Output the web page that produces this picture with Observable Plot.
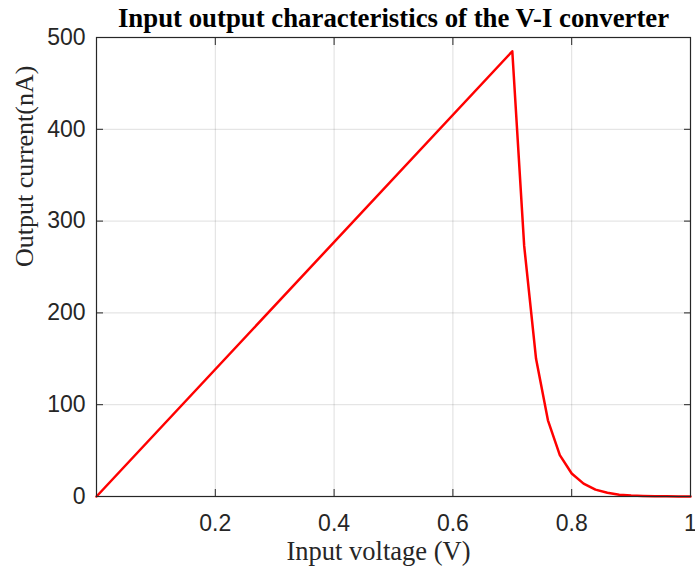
<!DOCTYPE html>
<html>
<head>
<meta charset="utf-8">
<script src="https://cdn.jsdelivr.net/npm/d3@7"></script>
<script src="https://cdn.jsdelivr.net/npm/@observablehq/plot@0.6"></script>
<style>
  html, body { margin: 0; padding: 0; background: #fff; }
  #chart { width: 695px; height: 571px; }
</style>
</head>
<body>
<div id="chart"></div>
<script>
const voltage = [0, 0.70, 0.72, 0.74, 0.76, 0.78, 0.80, 0.82, 0.84, 0.86, 0.88, 0.90, 0.92, 0.94, 0.96, 0.98, 1.00];
const current = [0, 485, 273, 150, 83, 45, 25, 14, 7.5, 4, 2, 1, 0.6, 0.3, 0.15, 0.08, 0.04];
const xTicks = [0.2, 0.4, 0.6, 0.8, 1];
const yTicks = [0, 100, 200, 300, 400, 500];
const title = "Input output characteristics of the V-I converter";
const xLabel = "Input voltage (V)";
const yLabel = "Output current(nA)";

const data = voltage.map((v, i) => ({v, c: current[i]}));
const axisColor = "#262626";
const sans = "'Liberation Sans', Arial, Helvetica, sans-serif";
const serif = "'Liberation Serif', 'Times New Roman', serif";

const plot = Plot.plot({
  width: 695,
  height: 571,
  marginLeft: 96,
  marginRight: 5,
  marginTop: 37,
  marginBottom: 75,
  style: {fontFamily: sans, background: "#fff", overflow: "visible"},
  x: {domain: [0, 1], label: null},
  y: {domain: [0, 500], label: null},
  marks: [
    Plot.gridX(xTicks, {stroke: "#000", strokeOpacity: 0.13, strokeWidth: 1}),
    Plot.gridY(yTicks, {stroke: "#000", strokeOpacity: 0.13, strokeWidth: 1}),
    Plot.line(data, {x: "v", y: "c", stroke: "#ff0000", strokeWidth: 2.5, strokeLinejoin: "round"}),
    Plot.frame({stroke: axisColor, strokeWidth: 1.2}),
    Plot.axisX(xTicks, {anchor: "bottom", tickSize: -7, tickPadding: 25, stroke: axisColor, fill: axisColor, fontSize: 23, label: null, tickFormat: d => d === 1 ? "1" : String(d)}),
    Plot.axisX(xTicks, {anchor: "top", tickSize: -7, stroke: axisColor, tickFormat: () => "", label: null}),
    Plot.axisY(yTicks, {anchor: "left", tickSize: -7, tickPadding: 18, stroke: axisColor, fill: axisColor, fontSize: 23, label: null}),
    Plot.axisY(yTicks, {anchor: "right", tickSize: -7, stroke: axisColor, tickFormat: () => "", label: null}),
    Plot.text([title], {frameAnchor: "top", dy: -11, lineAnchor: "bottom", fontFamily: serif, fontWeight: "bold", fontSize: 26.8, fill: "#000", text: d => d}),
    Plot.text([xLabel], {frameAnchor: "bottom", dx: -15, dy: 63, fontFamily: serif, fontSize: 26.5, fill: axisColor, text: d => d}),
    Plot.text([yLabel], {frameAnchor: "left", dx: -72, rotate: -90, fontFamily: serif, fontSize: 26, fill: axisColor, text: d => d})
  ]
});
document.getElementById("chart").appendChild(plot);
</script>
</body>
</html>
